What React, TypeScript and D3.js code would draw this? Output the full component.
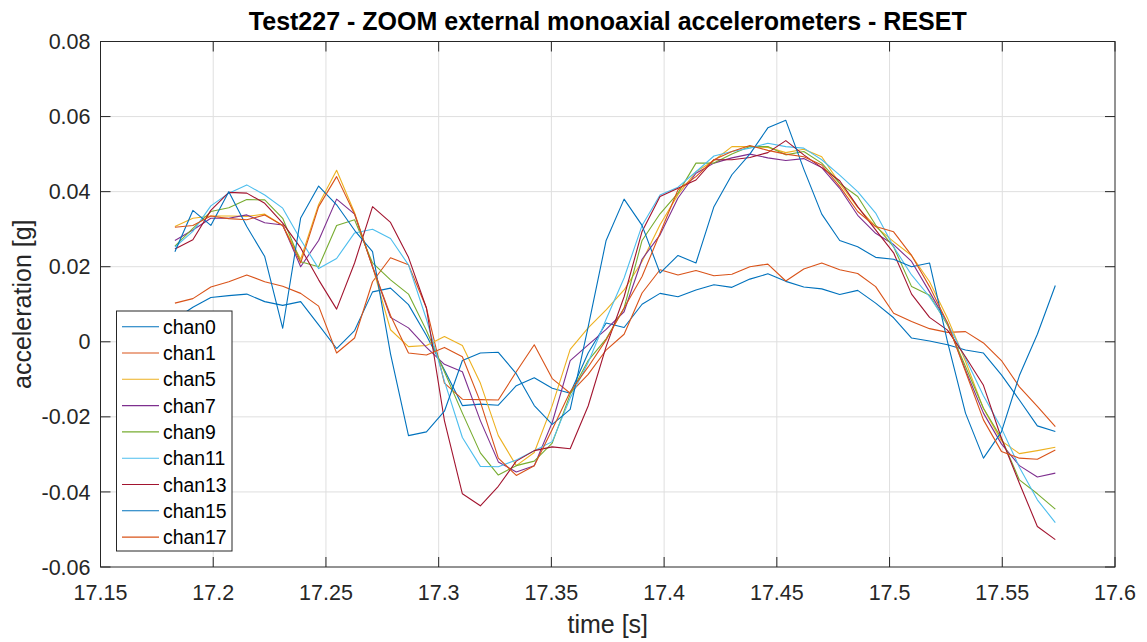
import React from "react";
import * as d3 from "d3";

// sample times: start + i*step (250 Hz data shown every other sample)
const T0 = 17.183;
const DT = 0.00797;

const chan0 = [0.006, 0.0092, 0.0118, 0.0123, 0.0127, 0.0107, 0.0097, 0.0107, 0.0045, -0.0018,
  0.003, 0.0133, 0.0143, 0.0099, 0.0017, -0.0075, -0.017, -0.0166, -0.0169, -0.0117,
  -0.0096, -0.0124, -0.0137, -0.003, 0.005, 0.0038, 0.010, 0.0129, 0.012, 0.0138,
  0.0152, 0.0145, 0.0167, 0.0181, 0.0161, 0.0146, 0.0141, 0.0126, 0.0137, 0.0103,
  0.0064, 0.001, 0.0002, -0.0008, -0.0022, -0.003, -0.0088, -0.0155, -0.0224, -0.0239];

const chan1 = [0.0103, 0.0115, 0.0146, 0.016, 0.0178, 0.016, 0.0148, 0.0129, 0.0095, -0.003,
  0.001, 0.016, 0.0224, 0.0205, 0.009, -0.011, -0.0153, -0.0154, -0.0155, -0.008,
  -0.0008, -0.0098, -0.0137, -0.0087, -0.0022, 0.002, 0.013, 0.0192, 0.0178, 0.019,
  0.0176, 0.018, 0.020, 0.0207, 0.0162, 0.0194, 0.021, 0.0192, 0.0182, 0.0147,
  0.0076, 0.0054, 0.0035, 0.0025, 0.0027, -0.0003, -0.005, -0.012, -0.0172, -0.0226];

const chan5 = [0.0307, 0.0329, 0.0335, 0.0335, 0.0334, 0.034, 0.031, 0.022, 0.0366, 0.0457,
  0.0344, 0.020, 0.0032, -0.0013, -0.001, 0.0014, -0.001, -0.011, -0.025, -0.033,
  -0.0295, -0.017, -0.002, 0.0037, 0.0085, 0.0138, 0.0214, 0.0312, 0.0392, 0.0453,
  0.0483, 0.052, 0.052, 0.0518, 0.0504, 0.0513, 0.0493, 0.0422, 0.0358, 0.0307,
  0.0267, 0.023, 0.016, 0.0063, -0.0052, -0.0178, -0.0264, -0.0298, -0.029, -0.0281];

const chan7 = [0.027, 0.0298, 0.0329, 0.0329, 0.0338, 0.0317, 0.0311, 0.020, 0.027, 0.038,
  0.034, 0.02, 0.0065, 0.0037, -0.0015, -0.006, -0.008, -0.021, -0.032, -0.0347,
  -0.033, -0.0215, -0.005, -0.0008, 0.0033, 0.008, 0.022, 0.0285, 0.0383, 0.0449,
  0.0476, 0.049, 0.05, 0.049, 0.0483, 0.0488, 0.0464, 0.0409, 0.0337, 0.0289,
  0.0259, 0.0214, 0.0133, 0.0049, -0.0075, -0.019, -0.0272, -0.033, -0.036, -0.035];

const chan9 = [0.0255, 0.0302, 0.0347, 0.0357, 0.0379, 0.0378, 0.0329, 0.0213, 0.020, 0.031,
  0.0325, 0.021, 0.0165, 0.0127, 0.003, -0.008, -0.019, -0.0296, -0.0355, -0.033,
  -0.0318, -0.027, -0.014, -0.005, 0.0008, 0.009, 0.027, 0.0341, 0.0396, 0.0476,
  0.0476, 0.05, 0.052, 0.052, 0.0498, 0.0507, 0.0476, 0.0422, 0.0387, 0.0311,
  0.0253, 0.0147, 0.0124, 0.0045, -0.0066, -0.0177, -0.0257, -0.0368, -0.0405, -0.0446];

const chan11 = [0.0252, 0.0294, 0.0362, 0.0396, 0.0418, 0.0391, 0.0356, 0.0272, 0.0195, 0.0222,
  0.029, 0.030, 0.0275, 0.0205, 0.006, -0.0105, -0.0255, -0.0332, -0.0333, -0.0315,
  -0.029, -0.0266, -0.015, -0.0055, 0.006, 0.017, 0.031, 0.0391, 0.0412, 0.0453,
  0.0495, 0.0507, 0.0516, 0.0529, 0.052, 0.0516, 0.0485, 0.0444, 0.04, 0.0343,
  0.0253, 0.0178, 0.012, 0.0049, -0.0044, -0.0144, -0.023, -0.0334, -0.0421, -0.0482];

const chan13 = [0.0247, 0.0272, 0.035, 0.0398, 0.0396, 0.0369, 0.0316, 0.025, 0.0165, 0.0087,
  0.021, 0.036, 0.0318, 0.0225, 0.009, -0.021, -0.0405, -0.0437, -0.0385, -0.0318,
  -0.029, -0.028, -0.0285, -0.0171, -0.0013, 0.012, 0.0294, 0.0387, 0.0409, 0.0431,
  0.0485, 0.0485, 0.0491, 0.0504, 0.0536, 0.0498, 0.0464, 0.0429, 0.036, 0.0298,
  0.0237, 0.0127, 0.0065, 0.0031, -0.004, -0.0116, -0.0257, -0.0377, -0.0492, -0.0527];

const chan15 = [0.024, 0.035, 0.031, 0.040, 0.0307, 0.0227, 0.0036, 0.033, 0.0415, 0.0365,
  0.0297, 0.024, -0.0032, -0.025, -0.024, -0.0185, -0.005, -0.003, -0.0028, -0.0085,
  -0.017, -0.022, -0.018, 0.004, 0.027, 0.038, 0.031, 0.0183, 0.023, 0.021,
  0.036, 0.0445, 0.050, 0.057, 0.059, 0.046, 0.034, 0.027, 0.0253, 0.0225,
  0.022, 0.020, 0.021, 0.0, -0.019, -0.031, -0.024, -0.009, 0.002, 0.015];

const chan17 = [0.0305, 0.031, 0.0335, 0.0328, 0.0325, 0.0338, 0.031, 0.021, 0.036, 0.044,
  0.034, 0.020, 0.007, -0.003, -0.0035, -0.0015, -0.004, -0.016, -0.031, -0.0356,
  -0.033, -0.0234, -0.0133, -0.0067, 0.0005, 0.009, 0.0174, 0.0289, 0.0405, 0.044,
  0.0485, 0.0507, 0.0523, 0.051, 0.05, 0.0493, 0.0471, 0.0414, 0.0347, 0.0307,
  0.0293, 0.023, 0.0147, 0.005, -0.0079, -0.0208, -0.0292, -0.031, -0.0313, -0.0288];

const seriesNames = ["chan0", "chan1", "chan5", "chan7", "chan9", "chan11", "chan13", "chan15", "chan17"];
const seriesValues = [chan0, chan1, chan5, chan7, chan9, chan11, chan13, chan15, chan17];
const seriesColors = ["#0072BD", "#D95319", "#EDB120", "#7E2F8E", "#77AC30", "#4DBEEE", "#A2142F", "#0072BD", "#D95319"];

const xTicks = [17.15, 17.2, 17.25, 17.3, 17.35, 17.4, 17.45, 17.5, 17.55, 17.6];
const xTickLabels = ["17.15", "17.2", "17.25", "17.3", "17.35", "17.4", "17.45", "17.5", "17.55", "17.6"];
const yTicks = [-0.06, -0.04, -0.02, 0, 0.02, 0.04, 0.06, 0.08];
const yTickLabels = ["-0.06", "-0.04", "-0.02", "0", "0.02", "0.04", "0.06", "0.08"];

const TITLE = "Test227 - ZOOM external monoaxial accelerometers - RESET";
const XLABEL = "time [s]";
const YLABEL = "acceleration [g]";

const W = 1147, H = 642;
const L = 100.5, R = 1115, T = 41.5, B = 567;
const FONT = "'Liberation Sans', Arial, Helvetica, sans-serif";
const AX = "#262626";

export default function App() {
  const x = d3.scaleLinear().domain([17.15, 17.6]).range([L, R]);
  const y = d3.scaleLinear().domain([-0.06, 0.08]).range([B, T]);
  const line = d3.line<number>().x((_, i) => x(T0 + i * DT)).y((v) => y(v));
  const tickLen = 10;
  const legX = 116.5, legY = 311, legW = 115.5, legH = 240, legRow = 26.3, legFirst = 326.7;

  return (
    <svg width={W} height={H} style={{ position: "absolute", left: 0, top: 0, background: "#fff" }} fontFamily={FONT}>
      <rect x={0} y={0} width={W} height={H} fill="#fff" />
      {xTicks.slice(1, -1).map((t) => (
        <line key={"gx" + t} x1={x(t)} x2={x(t)} y1={T} y2={B} stroke="#dfdfdf" strokeWidth={1} />
      ))}
      {yTicks.slice(1, -1).map((t) => (
        <line key={"gy" + t} x1={L} x2={R} y1={y(t)} y2={y(t)} stroke="#dfdfdf" strokeWidth={1} />
      ))}
      <g fill="none" strokeWidth={1.1} strokeLinejoin="round">
        {seriesValues.map((vals, k) => (
          <path key={seriesNames[k]} d={line(vals) || ""} stroke={seriesColors[k]} />
        ))}
      </g>
      <rect x={L} y={T} width={R - L} height={B - T} fill="none" stroke={AX} strokeWidth={1} />
      {xTicks.map((t) => (
        <g key={"tx" + t}>
          <line x1={x(t)} x2={x(t)} y1={B} y2={B - tickLen} stroke={AX} />
          <line x1={x(t)} x2={x(t)} y1={T} y2={T + tickLen} stroke={AX} />
        </g>
      ))}
      {yTicks.map((t) => (
        <g key={"ty" + t}>
          <line x1={L} x2={L + tickLen} y1={y(t)} y2={y(t)} stroke={AX} />
          <line x1={R} x2={R - tickLen} y1={y(t)} y2={y(t)} stroke={AX} />
        </g>
      ))}
      {xTicks.map((t, i) => (
        <text key={"lx" + t} x={x(t)} y={600} textAnchor="middle" fontSize={21.5} fill={AX}>{xTickLabels[i]}</text>
      ))}
      {yTicks.map((t, i) => (
        <text key={"ly" + t} x={L - 10} y={y(t) + 7.6} textAnchor="end" fontSize={21.5} fill={AX}>{yTickLabels[i]}</text>
      ))}
      <text x={(L + R) / 2} y={30} textAnchor="middle" fontSize={25} fontWeight="bold" fill="#000">{TITLE}</text>
      <text x={(L + R) / 2} y={633} textAnchor="middle" fontSize={25} fill={AX}>{XLABEL}</text>
      <text transform={`translate(31, ${(T + B) / 2}) rotate(-90)`} textAnchor="middle" fontSize={25} fill={AX}>{YLABEL}</text>
      <rect x={legX} y={legY} width={legW} height={legH} fill="#fff" stroke={AX} strokeWidth={1} />
      {seriesNames.map((n, k) => {
        const cy = legFirst + k * legRow;
        return (
          <g key={"leg" + n}>
            <line x1={122} x2={159} y1={cy} y2={cy} stroke={seriesColors[k]} strokeWidth={1.1} />
            <text x={163} y={cy + 7} fontSize={19.4} fill="#000">{n}</text>
          </g>
        );
      })}
    </svg>
  );
}
